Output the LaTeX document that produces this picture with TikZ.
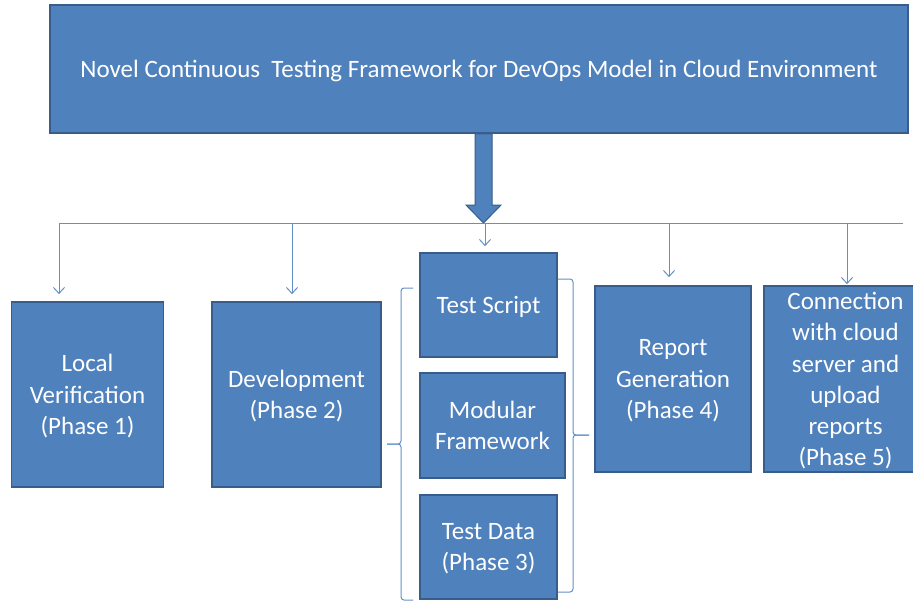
\documentclass[tikz,border=0pt]{standalone}
\usepackage{fontspec}
\setmainfont{Carlito}
\usetikzlibrary{arrows.meta,calc}
\definecolor{boxfill}{HTML}{4F81BD}
\definecolor{boxline}{HTML}{385D8A}
\definecolor{connc}{HTML}{6390CA}
\tikzset{
 box/.style={draw=boxline, fill=boxfill, line width=1.6pt, text=white, align=center,
   font=\fontsize{25}{31.2}\selectfont, inner sep=0pt, text depth=0pt},
 conn/.style={draw=connc, line width=1pt},
 arr/.style={conn, -{Straight Barb[length=6pt,width=11pt]}},
 brc/.style={conn, rounded corners=3pt},
}
\begin{document}
\begin{tikzpicture}[x=1pt,y=-1pt]
\useasboundingbox[fill=white] (0,0) rectangle (913,602);
\node[box, minimum width=858, minimum height=128, font=\fontsize{25}{30}\selectfont] (title) at (479,69)
  {Novel Continuous\ \ Testing Framework for DevOps Model in Cloud Environment};
\node[box, minimum width=152, minimum height=185] (lv) at (87.5,394.5)
  {Local\\Verification\\(Phase 1)};
\node[box, minimum width=169, minimum height=185] (dev) at (296.5,394.5)
  {Development\\(Phase 2)};
\node[box, minimum width=137, minimum height=104] (ts) at (488.5,305) {Test Script};
\node[box, minimum width=145, minimum height=105] (mf) at (492.5,425.5) {Modular\\Framework};
\node[box, minimum width=137, minimum height=104] (td) at (488.5,547) {Test Data\\(Phase 3)};
\node[box, minimum width=156, minimum height=186] (rg) at (673,379)
  {Report\\Generation\\(Phase 4)};
\node[box, minimum width=163, minimum height=186] (cs) at (845.5,379)
  {Connection\\with cloud\\server and\\upload\\reports\\(Phase 5)};
% thick arrow
\coordinate (busC) at (483.5,223);
\draw[boxline, fill=boxfill, line width=1pt]
  ($(title.south -| busC)+(-8.5,0)$) -- ($(busC)+(-8.5,-18)$) -- ($(busC)+(-17.5,-18)$) -- (busC)
  -- ($(busC)+(17.5,-18)$) -- ($(busC)+(8.5,-18)$) -- ($(title.south -| busC)+(8.5,0)$) -- cycle;
% bus
\coordinate (busL) at (59,223);
\coordinate (busR) at (903,223);
\draw[conn] (busL) -- (busR);
\coordinate (b2) at (292,223);
\coordinate (b3) at (485,223);
\coordinate (b4) at (669,223);
\coordinate (b5) at (847,223);
\draw[arr, shorten >=7pt] (busL) -- (busL |- lv.north);
\draw[arr, shorten >=7pt] (b2) -- (b2 |- dev.north);
\draw[arr, shorten >=6pt] (b3) -- (b3 |- ts.north);
\draw[arr, shorten >=8pt] (b4) -- (b4 |- rg.north);
\draw[arr, shorten >=1pt] (b5) -- (b5 |- cs.north);
% braces
\draw[brc] (413,288) -- (401,288) -- (401,444) -- (387,444);
\draw[brc] (413,600) -- (401,600) -- (401,444) -- (387,444);
\draw[brc] (558,279) -- (573,279) -- (573,435) -- (589,435);
\draw[brc] (558,592) -- (573,592) -- (573,435) -- (589,435);
\end{tikzpicture}
\end{document}
